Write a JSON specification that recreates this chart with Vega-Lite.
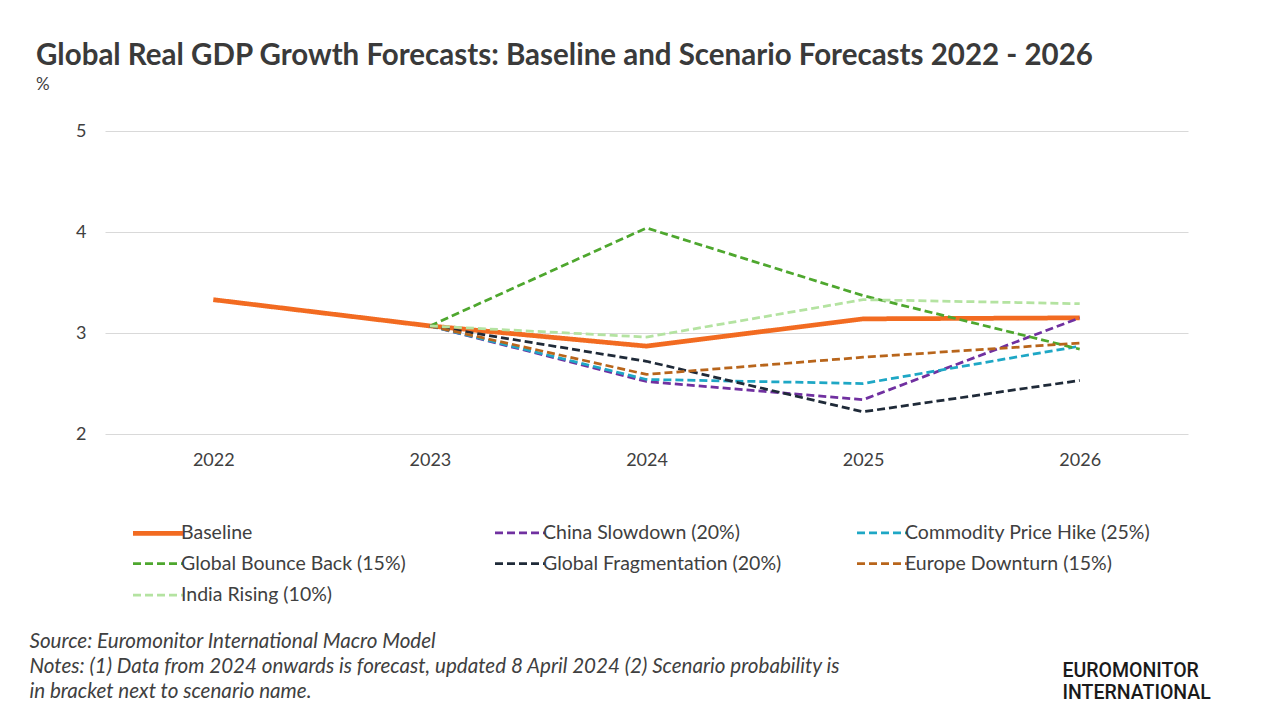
{
  "$schema": "https://vega.github.io/schema/vega-lite/v6.json",
  "width": 1083,
  "height": 303,
  "autosize": {"type": "none"},
  "padding": {"left": 105, "top": 131, "right": 92, "bottom": 286},
  "background": "white",
  "config": {"font": "Lato", "view": {"stroke": null}},
  "title": {
    "text": "Global Real GDP Growth Forecasts: Baseline and Scenario Forecasts 2022 - 2026",
    "subtitle": "%",
    "anchor": "start",
    "frame": "group",
    "dx": -69,
    "offset": 28,
    "font": "Lato",
    "fontSize": 29.5,
    "fontWeight": "bold",
    "color": "#3a3a3a",
    "subtitleFont": "Lato",
    "subtitleFontSize": 17,
    "subtitleColor": "#404040",
    "subtitlePadding": 6
  },
  "data": {"values": [
    {"year": "2022", "scenario": "Baseline", "gdp": 3.33},
    {"year": "2023", "scenario": "Baseline", "gdp": 3.07},
    {"year": "2024", "scenario": "Baseline", "gdp": 2.87},
    {"year": "2025", "scenario": "Baseline", "gdp": 3.14},
    {"year": "2026", "scenario": "Baseline", "gdp": 3.15},
    {"year": "2023", "scenario": "China Slowdown (20%)", "gdp": 3.07},
    {"year": "2024", "scenario": "China Slowdown (20%)", "gdp": 2.52},
    {"year": "2025", "scenario": "China Slowdown (20%)", "gdp": 2.34},
    {"year": "2026", "scenario": "China Slowdown (20%)", "gdp": 3.15},
    {"year": "2023", "scenario": "Commodity Price Hike (25%)", "gdp": 3.07},
    {"year": "2024", "scenario": "Commodity Price Hike (25%)", "gdp": 2.54},
    {"year": "2025", "scenario": "Commodity Price Hike (25%)", "gdp": 2.50},
    {"year": "2026", "scenario": "Commodity Price Hike (25%)", "gdp": 2.87},
    {"year": "2023", "scenario": "Global Bounce Back (15%)", "gdp": 3.07},
    {"year": "2024", "scenario": "Global Bounce Back (15%)", "gdp": 4.04},
    {"year": "2025", "scenario": "Global Bounce Back (15%)", "gdp": 3.37},
    {"year": "2026", "scenario": "Global Bounce Back (15%)", "gdp": 2.84},
    {"year": "2023", "scenario": "Global Fragmentation (20%)", "gdp": 3.07},
    {"year": "2024", "scenario": "Global Fragmentation (20%)", "gdp": 2.72},
    {"year": "2025", "scenario": "Global Fragmentation (20%)", "gdp": 2.22},
    {"year": "2026", "scenario": "Global Fragmentation (20%)", "gdp": 2.53},
    {"year": "2023", "scenario": "Europe Downturn (15%)", "gdp": 3.07},
    {"year": "2024", "scenario": "Europe Downturn (15%)", "gdp": 2.59},
    {"year": "2025", "scenario": "Europe Downturn (15%)", "gdp": 2.76},
    {"year": "2026", "scenario": "Europe Downturn (15%)", "gdp": 2.90},
    {"year": "2023", "scenario": "India Rising (10%)", "gdp": 3.07},
    {"year": "2024", "scenario": "India Rising (10%)", "gdp": 2.96},
    {"year": "2025", "scenario": "India Rising (10%)", "gdp": 3.33},
    {"year": "2026", "scenario": "India Rising (10%)", "gdp": 3.29}
  ]},
  "mark": {"type": "line", "strokeCap": "butt"},
  "encoding": {
    "x": {
      "field": "year",
      "type": "ordinal",
      "scale": {"type": "point", "padding": 0.5},
      "axis": {
        "labelAngle": 0,
        "labelFontSize": 18,
        "labelColor": "#404040",
        "labelPadding": 17,
        "ticks": false,
        "domain": false,
        "grid": false,
        "title": ["Source: Euromonitor International Macro Model", "Notes: (1) Data from 2024 onwards is forecast, updated 8 April 2024 (2) Scenario probability is", "in bracket next to scenario name."],
        "titleX": -76,
        "titleY": 213,
        "titleAlign": "left",
        "titleAnchor": null,
        "titleBaseline": "alphabetic",
        "titleFontSize": 20.6,
        "titleFontStyle": "italic",
        "titleFontWeight": "normal",
        "titleColor": "#404040",
        "titleLineHeight": 25
      }
    },
    "y": {
      "field": "gdp",
      "type": "quantitative",
      "scale": {"domain": [2, 5], "nice": false, "zero": false},
      "axis": {
        "values": [2, 3, 4, 5],
        "labelFontSize": 18,
        "labelColor": "#404040",
        "labelPadding": 19,
        "ticks": false,
        "domain": false,
        "grid": true,
        "gridColor": "#d9d9d9",
        "gridWidth": 1,
        "title": ["EUROMONITOR", "INTERNATIONAL"],
        "titleAngle": 0,
        "titleX": 957,
        "titleY": 545,
        "titleAlign": "left",
        "titleBaseline": "alphabetic",
        "titleFont": "Roboto",
        "titleFontSize": 19.5,
        "titleFontWeight": 500,
        "titleColor": "#1a1a1a",
        "titleLineHeight": 22
      }
    },
    "color": {
      "field": "scenario",
      "type": "nominal",
      "scale": {
        "domain": ["Baseline", "China Slowdown (20%)", "Commodity Price Hike (25%)", "Global Bounce Back (15%)", "Global Fragmentation (20%)", "Europe Downturn (15%)", "India Rising (10%)"],
        "range": ["#F26B21", "#7030A0", "#1EA7C5", "#4EA72E", "#1F2A38", "#B8651B", "#B4E3A1"]
      },
      "legend": {
        "title": null,
        "orient": "none",
        "legendX": 38,
        "legendY": 387,
        "direction": "horizontal",
        "columns": 3,
        "gridAlign": "all",
        "columnPadding": 62,
        "rowPadding": 6.5,
        "symbolType": "M-2,0H2",
        "symbolSize": 625,
        "labelFontSize": 19.5,
        "labelColor": "#404040",
        "labelOffset": 8,
        "labelLimit": 400
      }
    },
    "strokeDash": {
      "field": "scenario",
      "type": "nominal",
      "scale": {
        "type": "ordinal",
        "domain": ["Baseline", "China Slowdown (20%)", "Commodity Price Hike (25%)", "Global Bounce Back (15%)", "Global Fragmentation (20%)", "Europe Downturn (15%)", "India Rising (10%)"],
        "range": [[1, 0], [8, 4], [8, 4], [8, 4], [8, 4], [8, 4], [8, 4]]
      },
      "legend": null
    },
    "strokeWidth": {
      "field": "scenario",
      "type": "nominal",
      "scale": {
        "type": "ordinal",
        "domain": ["Baseline", "China Slowdown (20%)", "Commodity Price Hike (25%)", "Global Bounce Back (15%)", "Global Fragmentation (20%)", "Europe Downturn (15%)", "India Rising (10%)"],
        "range": [4.75, 2.75, 2.75, 2.75, 2.75, 2.75, 2.75]
      },
      "legend": null
    }
  }
}
